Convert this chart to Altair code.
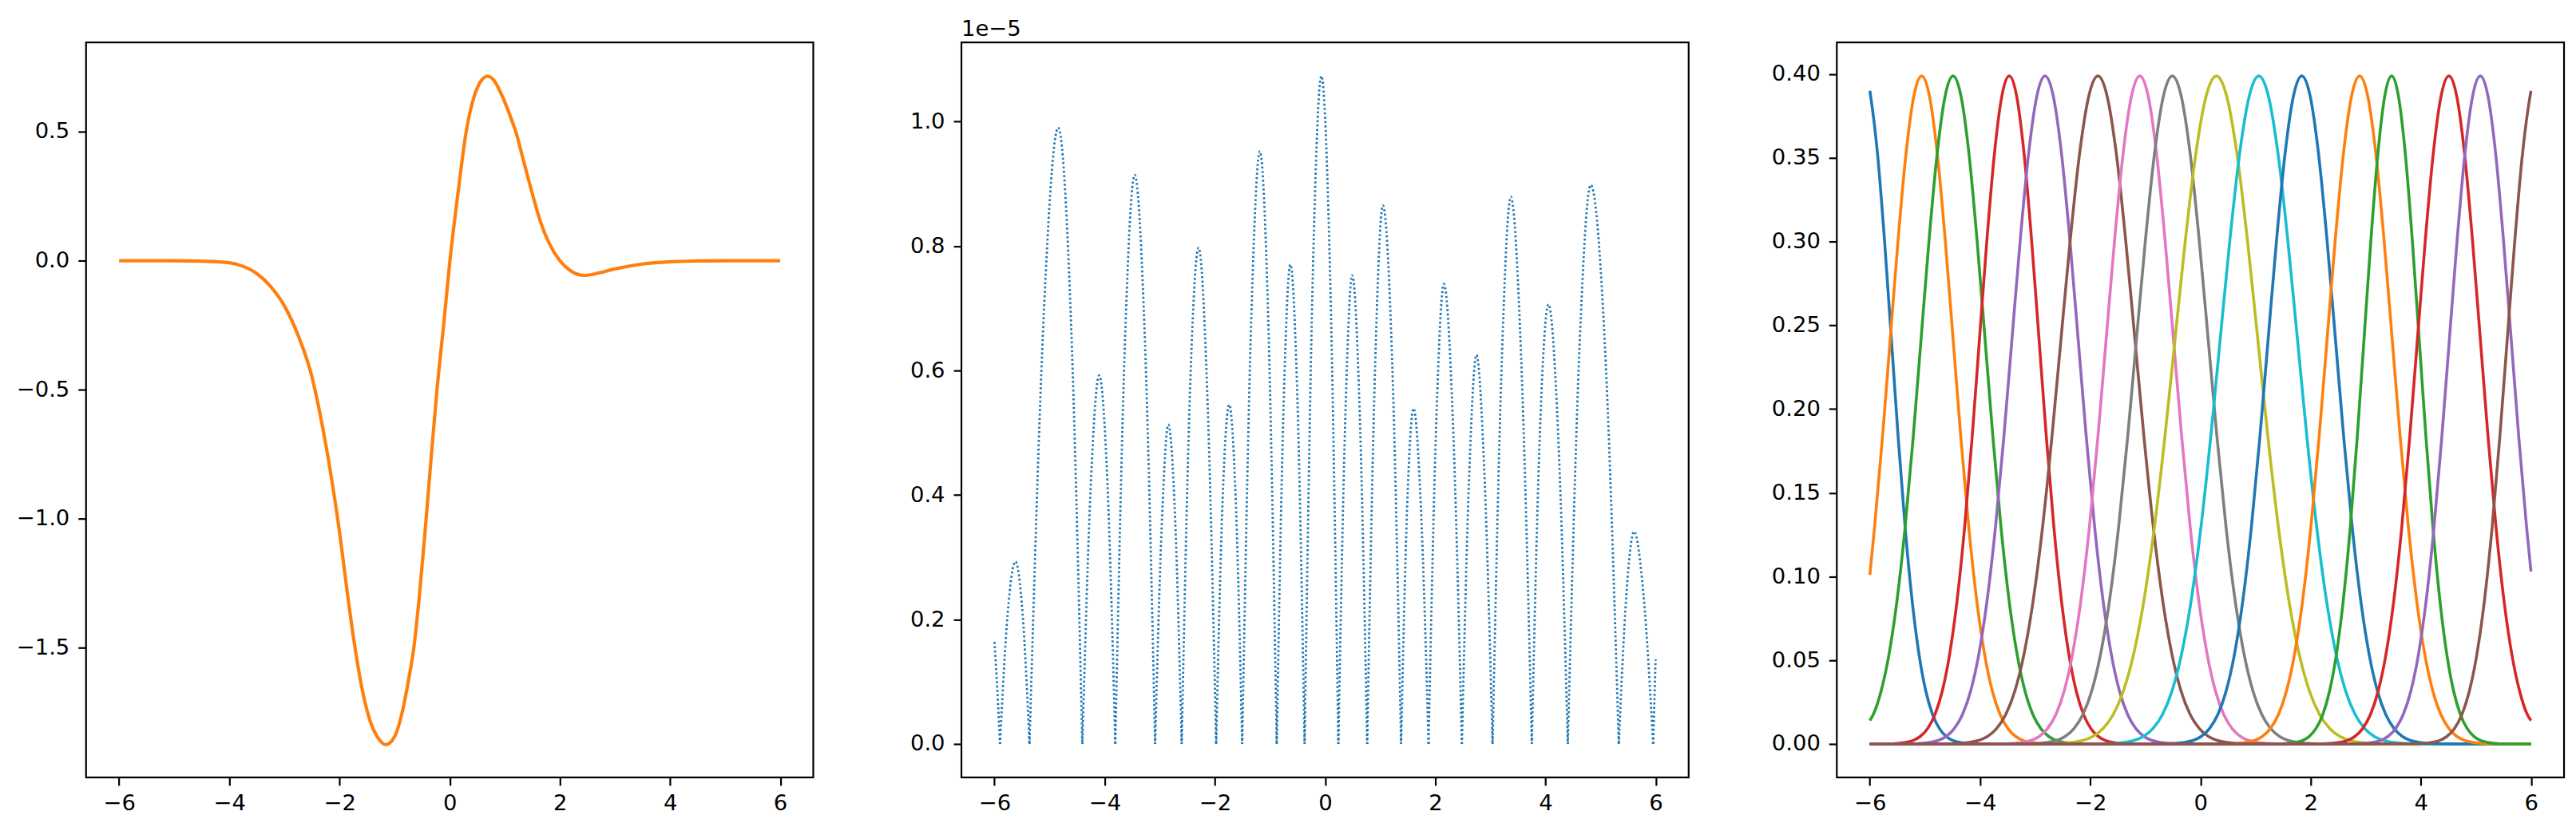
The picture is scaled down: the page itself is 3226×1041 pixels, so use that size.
import altair as alt
import pandas as pd

# ---------------- left panel: target curve ----------------
left_x = [-6.0, -5.5, -5.0, -4.5, -4.0, -3.75, -3.5, -3.25, -3.0, -2.75, -2.5, -2.375, -2.25, -2.125,
          -2.0, -1.88, -1.76, -1.65, -1.55, -1.45, -1.3, -1.156, -1.0, -0.85, -0.75, -0.65, -0.55,
          -0.45, -0.35, -0.23, -0.1, 0.0, 0.15, 0.3, 0.45, 0.58, 0.69, 0.8, 0.95, 1.1, 1.2, 1.35,
          1.5, 1.65, 1.8, 2.0, 2.2, 2.44, 2.7, 3.0, 3.5, 4.0, 4.5, 5.0, 5.5, 6.0]
left_y = [0.0, 0.0, 0.0, -0.002, -0.008, -0.022, -0.05, -0.10, -0.175, -0.29, -0.45, -0.57, -0.71, -0.87,
          -1.05, -1.25, -1.44, -1.59, -1.70, -1.78, -1.85, -1.876, -1.845, -1.74, -1.63, -1.50, -1.30,
          -1.06, -0.80, -0.50, -0.23, -0.01, 0.26, 0.50, 0.64, 0.70, 0.715, 0.70, 0.64, 0.56, 0.50, 0.38,
          0.26, 0.15, 0.07, 0.0, -0.04, -0.057, -0.048, -0.032, -0.013, -0.004, -0.001, 0.0, 0.0, 0.0]

# ---------------- middle panel: absolute error (units of 1e-5), one list per arch ----------------
err_seg = ([0] * 3 + [1] * 5 + [2] * 5 + [3] * 5 + [4] * 5 + [5] * 5 + [6] * 5 + [7] * 5 + [8] * 5
           + [9] * 5 + [10] * 5 + [11] * 5 + [12] * 5 + [13] * 5 + [14] * 5 + [15] * 5 + [16] * 5
           + [17] * 5 + [18] * 5 + [19] * 5 + [20] * 3)
err_x = [-6.00, -5.95, -5.90,
         -5.90, -5.76, -5.62, -5.49, -5.364,
         -5.364, -5.10, -4.843, -4.62, -4.405,
         -4.405, -4.25, -4.10, -3.95, -3.807,
         -3.807, -3.63, -3.455, -3.27, -3.084,
         -3.084, -2.96, -2.845, -2.72, -2.602,
         -2.602, -2.45, -2.295, -2.14, -1.976,
         -1.976, -1.86, -1.74, -1.62, -1.504,
         -1.504, -1.34, -1.183, -1.03, -0.877,
         -0.877, -0.75, -0.63, -0.50, -0.371,
         -0.371, -0.22, -0.066, 0.09, 0.242,
         0.242, 0.37, 0.493, 0.63, 0.765,
         0.765, 0.91, 1.05, 1.22, 1.380,
         1.380, 1.49, 1.607, 1.74, 1.879,
         1.879, 2.02, 2.158, 2.32, 2.484,
         2.484, 2.62, 2.748, 2.89, 3.041,
         3.041, 3.21, 3.372, 3.56, 3.753,
         3.753, 3.90, 4.056, 4.23, 4.407,
         4.407, 4.62, 4.823, 5.08, 5.332,
         5.332, 5.47, 5.608, 5.78, 5.956,
         5.956, 5.98, 6.00]
err_y = [0.164, 0.090, 0.0,
         0.0, 0.21, 0.293, 0.21, 0.0,
         0.0, 0.70, 0.990, 0.70, 0.0,
         0.0, 0.42, 0.592, 0.42, 0.0,
         0.0, 0.65, 0.914, 0.65, 0.0,
         0.0, 0.36, 0.513, 0.36, 0.0,
         0.0, 0.57, 0.797, 0.57, 0.0,
         0.0, 0.39, 0.545, 0.39, 0.0,
         0.0, 0.68, 0.952, 0.68, 0.0,
         0.0, 0.55, 0.770, 0.55, 0.0,
         0.0, 0.76, 1.073, 0.76, 0.0,
         0.0, 0.53, 0.753, 0.53, 0.0,
         0.0, 0.61, 0.865, 0.61, 0.0,
         0.0, 0.38, 0.539, 0.38, 0.0,
         0.0, 0.52, 0.739, 0.52, 0.0,
         0.0, 0.44, 0.625, 0.44, 0.0,
         0.0, 0.62, 0.879, 0.62, 0.0,
         0.0, 0.50, 0.706, 0.50, 0.0,
         0.0, 0.64, 0.898, 0.64, 0.0,
         0.0, 0.24, 0.341, 0.24, 0.0,
         0.0, 0.075, 0.136]

# ---------------- right panel: 16 radial basis functions ----------------
rbf_center = [-6.11, -5.06, -4.49, -3.47, -2.82, -1.86, -1.10, -0.51, 0.29, 1.06, 1.84, 2.89,
              3.47, 4.51, 5.08, 6.12]
rbf_width = [0.50, 0.57, 0.58, 0.54, 0.60, 0.67, 0.61, 0.65, 0.75, 0.70, 0.61, 0.59,
             0.50, 0.57, 0.56, 0.55]
rbf_left_edge = [0.390, 0.101, 0.014, 0, 0, 0, 0, 0, 0, 0, 0, 0, 0, 0, 0, 0]
rbf_right_edge = [0, 0, 0, 0, 0, 0, 0, 0, 0, 0, 0, 0, 0, 0.014, 0.103, 0.390]
# shared bump profile (offset in widths -> height)
profile_u = [-4.0, -3.75, -3.5, -3.25, -3.0, -2.75, -2.5, -2.25, -2.0, -1.75, -1.5, -1.25, -1.0,
             -0.75, -0.5, -0.25, 0.0, 0.25, 0.5, 0.75, 1.0, 1.25, 1.5, 1.75, 2.0, 2.25, 2.5,
             2.75, 3.0, 3.25, 3.5, 3.75, 4.0]
profile_h = [0.0001, 0.0004, 0.0009, 0.0020, 0.0044, 0.0091, 0.0175, 0.0317, 0.0540, 0.0863,
             0.1295, 0.1826, 0.2420, 0.3011, 0.3521, 0.3867, 0.3989, 0.3867, 0.3521, 0.3011,
             0.2420, 0.1826, 0.1295, 0.0863, 0.0540, 0.0317, 0.0175, 0.0091, 0.0044, 0.0020,
             0.0009, 0.0004, 0.0001]
tab10 = ["#1f77b4", "#ff7f0e", "#2ca02c", "#d62728", "#9467bd", "#8c564b", "#e377c2",
         "#7f7f7f", "#bcbd22", "#17becf"]

FONT = "DejaVu Sans"
FS = 27.5
PW, PH = 913, 923
EXT = 90

rows = []
for i, (c, w) in enumerate(zip(rbf_center, rbf_width)):
    col = tab10[i % 10]
    rows.append({"k": i, "x": -6.0, "y": rbf_left_edge[i], "c": col})
    for u, h in zip(profile_u, profile_h):
        xx = c + u * w
        if -6.0 < xx < 6.0:
            rows.append({"k": i, "x": xx, "y": h, "c": col})
    rows.append({"k": i, "x": 6.0, "y": rbf_right_edge[i], "c": col})
rbf_df = pd.DataFrame(rows)

left_df = pd.DataFrame({"x": left_x, "y": left_y})
err_df = pd.DataFrame({"k": err_seg, "x": err_x, "y": err_y})


def xaxis():
    return alt.Axis(values=[-6, -4, -2, 0, 2, 4, 6], labelExpr="replace(format(datum.value, 'd'), '-', '−')",
                    tickSize=10, tickWidth=2.2, tickColor="black", domain=False, grid=False,
                    labelFont=FONT, labelFontSize=FS, labelColor="black", labelPadding=9,
                    title=None, labelFlush=False)


def yaxis(vals, fmt):
    return alt.Axis(values=vals, labelExpr="replace(format(datum.value, '" + fmt + "'), '-', '−')",
                    tickSize=10, tickWidth=2.2, tickColor="black", domain=False, grid=False,
                    labelFont=FONT, labelFontSize=FS, labelColor="black", labelPadding=11,
                    title=None, minExtent=EXT, maxExtent=EXT, labelFlush=False)


xs = alt.Scale(domain=[-6.6, 6.6], nice=False, zero=False)

left = alt.Chart(left_df).mark_line(color="#ff7f0e", strokeWidth=4.2, interpolate="monotone", clip=True).encode(
    x=alt.X("x:Q", scale=xs, axis=xaxis()),
    y=alt.Y("y:Q", scale=alt.Scale(domain=[-2.003, 0.846], nice=False, zero=False),
            axis=yaxis([-1.5, -1.0, -0.5, 0.0, 0.5], ".1f")),
).properties(width=PW, height=PH)

mid_line = alt.Chart(err_df).mark_line(color="#1f77b4", strokeWidth=2.8, strokeDash=[2.5, 3],
                                       interpolate="monotone", clip=True).encode(
    x=alt.X("x:Q", scale=xs, axis=xaxis()),
    y=alt.Y("y:Q", scale=alt.Scale(domain=[-0.0537, 1.127], nice=False, zero=False),
            axis=yaxis([0.0, 0.2, 0.4, 0.6, 0.8, 1.0], ".1f")),
    detail="k:N",
)
mid_text = alt.Chart(pd.DataFrame({"t": ["1e−5"]})).mark_text(
    align="left", baseline="alphabetic", font=FONT, fontSize=FS, color="black").encode(
    x=alt.value(0), y=alt.value(-8), text="t:N")
mid = alt.layer(mid_line, mid_text).properties(width=PW, height=PH)

right = alt.Chart(rbf_df).mark_line(strokeWidth=3.6, interpolate="monotone", clip=True).encode(
    x=alt.X("x:Q", scale=xs, axis=xaxis()),
    y=alt.Y("y:Q", scale=alt.Scale(domain=[-0.01995, 0.4189], nice=False, zero=False),
            axis=yaxis([0.0, 0.05, 0.1, 0.15, 0.2, 0.25, 0.3, 0.35, 0.4], ".2f")),
    color=alt.Color("c:N", scale=None),
    detail="k:N",
).properties(width=PW, height=PH)

chart = alt.hconcat(left, mid, right, spacing=182 - EXT).properties(
    padding={"left": 8, "top": 12, "right": 5, "bottom": 5}
).configure(background="white").configure_view(stroke="black", strokeWidth=2.2)

chart.save("out.html", embed_options={"renderer": "svg", "actions": False})
